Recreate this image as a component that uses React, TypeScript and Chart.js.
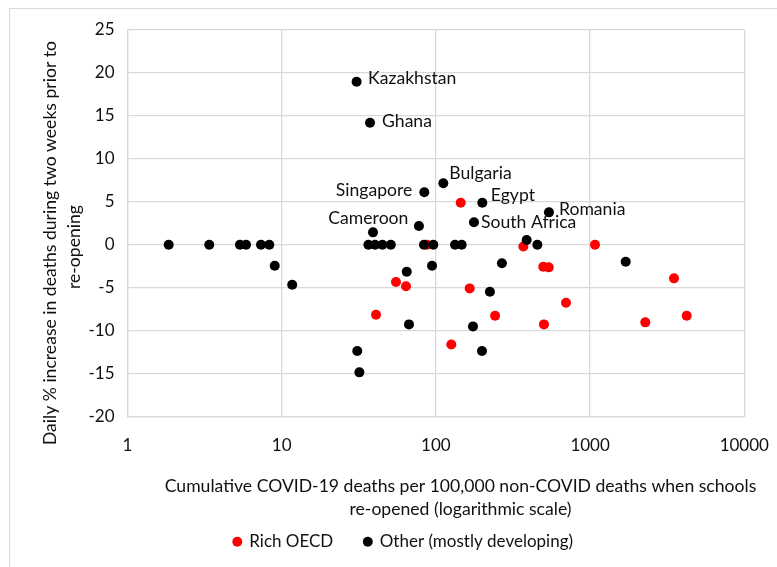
import { useEffect, useRef } from 'react';
import { Chart, registerables } from 'chart.js';

Chart.register(...registerables);

// ---------- data ----------
const xTickValues = [1, 10, 100, 1000, 10000];
const yMin = -20;
const yMax = 25;
const yStep = 5;

const richLabel = 'Rich OECD';
const otherLabel = 'Other (mostly developing)';

const richX = [144.8, 369, 1076, 3500, 4230, 2280, 698, 502, 497, 539, 165.6, 242, 125.9, 55.1, 64, 40.9, 87.6];
const richY = [4.9, -0.2, 0, -3.9, -8.25, -9.02, -6.73, -9.26, -2.55, -2.62, -5.07, -8.25, -11.6, -4.33, -4.83, -8.13, 0];

const otherX = [1.85, 3.39, 5.36, 5.87, 7.34, 8.31, 9.01, 11.7, 39.1, 36.5, 40.3, 45, 51, 83.7, 96.2, 133, 147, 94.4, 64.7, 66.9, 30.9, 31.9, 388, 455, 1702, 268, 224, 174, 199];
const otherY = [0, 0, 0, 0, 0, 0, -2.43, -4.64, 1.45, 0, 0, 0, 0, 0, 0, 0, 0, -2.43, -3.13, -9.26, -12.36, -14.84, 0.56, 0, -1.96, -2.15, -5.45, -9.49, -12.36];

// labelled countries (part of the "Other" series)
const namedCountries = ['Kazakhstan', 'Ghana', 'Singapore', 'Bulgaria', 'Egypt', 'Romania', 'South Africa', 'Cameroon'];
const namedX = [30.6, 37.4, 84.1, 111.7, 200, 541, 176.6, 77.6];
const namedY = [18.98, 14.2, 6.11, 7.16, 4.9, 3.78, 2.62, 2.19];

const xTitleLines = ['Cumulative COVID-19 deaths per 100,000 non-COVID deaths when schools', 're-opened (logarithmic scale)'];
const yTitleLines = ['Daily % increase in deaths during two weeks prior to', 're-opening'];

// ---------- style ----------
const FONT_FAMILY = 'Lato';
const FONT_SIZE = 17;
const TEXT_SIZE = 17.6;
const TEXT = '#111111';
const GRID = '#d9d9d9';

// label placement: side and pixel offsets from the point
const labelPlacement: Record<string, { side: 'left' | 'right'; dx: number; dy: number }> = {
  Kazakhstan: { side: 'right', dx: 11.5, dy: -3 },
  Ghana: { side: 'right', dx: 12, dy: -1 },
  Singapore: { side: 'left', dx: -12, dy: -1.5 },
  Bulgaria: { side: 'right', dx: 6, dy: -10 },
  Egypt: { side: 'right', dx: 8.5, dy: -7.5 },
  Romania: { side: 'right', dx: 10, dy: -3 },
  'South Africa': { side: 'right', dx: 7, dy: 0.5 },
  Cameroon: { side: 'left', dx: -10.5, dy: -7.5 },
};

const labelsPlugin = {
  id: 'customText',
  afterDraw(chart: any) {
    const { ctx, scales } = chart;
    const xs = scales.x;
    const ys = scales.y;
    ctx.save();
    ctx.fillStyle = TEXT;
    ctx.font = `${TEXT_SIZE}px ${FONT_FAMILY}`;
    ctx.textBaseline = 'middle';
    namedCountries.forEach((name, i) => {
      const p = labelPlacement[name];
      const px = xs.getPixelForValue(namedX[i]);
      const py = ys.getPixelForValue(namedY[i]);
      ctx.textAlign = p.side === 'left' ? 'right' : 'left';
      ctx.fillText(name, px + p.dx, py + p.dy);
    });
    // x title
    ctx.textAlign = 'center';
    ctx.fillText(xTitleLines[0], 460.5, 486);
    ctx.fillText(xTitleLines[1], 460.5, 509);
    // y title
    ctx.save();
    ctx.translate(50, 243);
    ctx.rotate(-Math.PI / 2);
    ctx.fillText(yTitleLines[0], 0, 0);
    ctx.restore();
    ctx.save();
    ctx.translate(74, 247);
    ctx.rotate(-Math.PI / 2);
    ctx.fillText(yTitleLines[1], 0, 0);
    ctx.restore();
    ctx.restore();
  },
};

export default function App() {
  const ref = useRef<HTMLCanvasElement>(null);

  useEffect(() => {
    const richData = richX.map((x, i) => ({ x, y: richY[i] }));
    const otherData = otherX
      .map((x, i) => ({ x, y: otherY[i] }))
      .concat(namedX.map((x, i) => ({ x, y: namedY[i] })));

    const font = { family: FONT_FAMILY, size: FONT_SIZE };

    const chart = new Chart(ref.current as HTMLCanvasElement, {
      type: 'scatter',
      data: {
        datasets: [
          {
            label: richLabel,
            data: richData,
            backgroundColor: '#ff0000',
            borderColor: '#ff0000',
            pointRadius: 5,
            pointBorderWidth: 0,
            order: 1,
          },
          {
            label: otherLabel,
            data: otherData,
            backgroundColor: '#000000',
            borderColor: '#000000',
            pointRadius: 5,
            pointBorderWidth: 0,
            order: 0,
          },
        ],
      },
      options: {
        responsive: false,
        animation: false,
        events: [],
        layout: { padding: { left: 62.5, right: 32.7, top: 30, bottom: 6.8 } },
        plugins: {
          tooltip: { enabled: false },
          legend: {
            position: 'bottom',
            labels: {
              usePointStyle: true,
              pointStyle: 'circle',
              boxWidth: 7,
              boxHeight: 7,
              padding: 31,
              font,
              color: TEXT,
              sort: (a: any, b: any) => a.datasetIndex - b.datasetIndex,
            },
          },
        },
        scales: {
          x: {
            type: 'logarithmic',
            min: 1,
            max: 10000,
            afterBuildTicks: (s: any) => {
              s.ticks = xTickValues.map((v) => ({ value: v }));
            },
            afterFit: (s: any) => {
              s.height = 85.5;
              s.paddingLeft = 0;
              s.paddingRight = 0;
            },
            ticks: {
              autoSkip: false,
              maxRotation: 0,
              padding: 19,
              font,
              color: TEXT,
              callback: (v: any) => String(v),
            },
            grid: { color: GRID, drawTicks: false, lineWidth: 1.3 },
            border: { color: GRID, width: 1.3 },
          },
          y: {
            type: 'linear',
            min: yMin,
            max: yMax,
            afterFit: (s: any) => {
              s.width = 65;
              s.paddingTop = 0;
              s.paddingBottom = 0;
            },
            ticks: {
              stepSize: yStep,
              padding: 13,
              font,
              color: TEXT,
            },
            grid: { color: GRID, drawTicks: false, lineWidth: 1.3 },
            border: { color: GRID, width: 1.3 },
          },
        },
      },
      plugins: [labelsPlugin],
    } as any);

    return () => chart.destroy();
  }, []);

  return (
    <div
      style={{
        position: 'absolute',
        left: 0,
        top: 0,
        width: 777,
        height: 567,
        background: '#ffffff',
        overflow: 'hidden',
      }}
    >
      <canvas ref={ref} width={777} height={567} style={{ position: 'absolute', left: 0, top: 0 }} />
      <div
        style={{
          position: 'absolute',
          left: 9,
          top: 8,
          width: 800,
          height: 600,
          borderLeft: '1.5px solid #d9d9d9',
          borderTop: '1.5px solid #d9d9d9',
          pointerEvents: 'none',
        }}
      />
    </div>
  );
}
